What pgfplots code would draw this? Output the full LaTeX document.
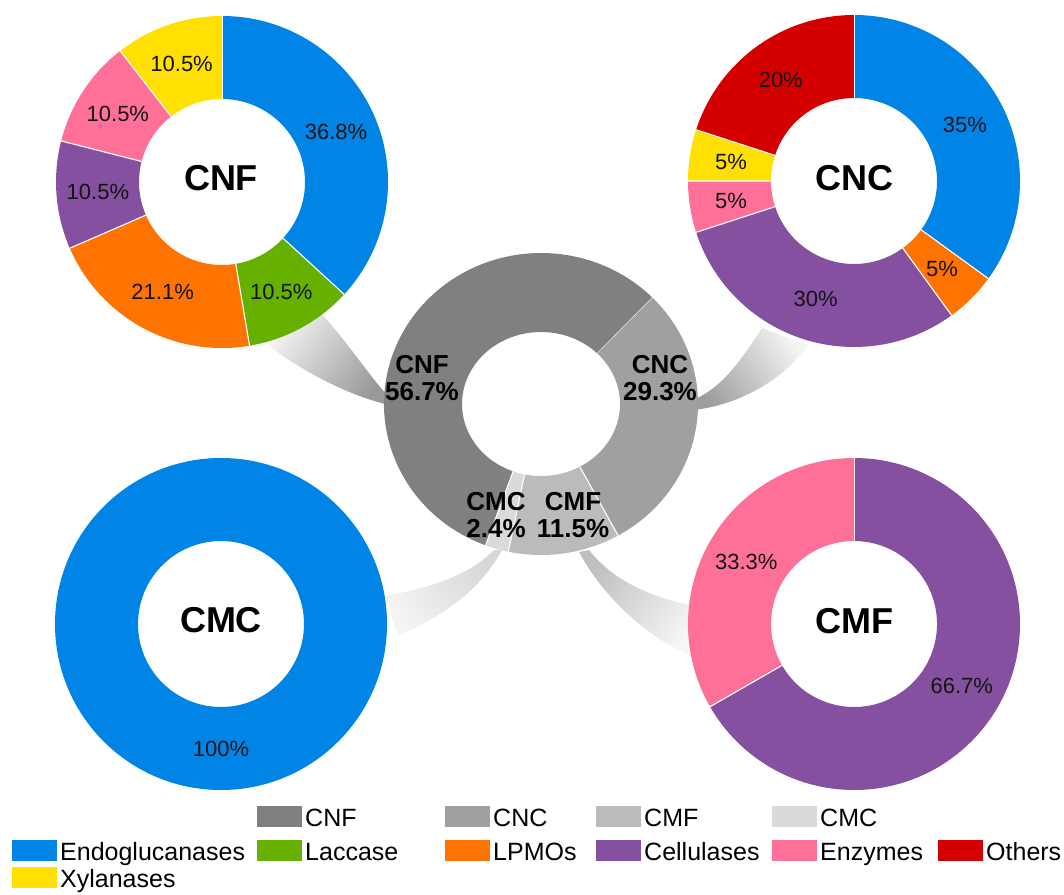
\documentclass[border=0pt]{standalone}
\usepackage{fontspec}
\setmainfont{Liberation Sans}
\usepackage{pgfplots}
\pgfplotsset{compat=1.18}
\usepackage{pgfplotstable}
\usetikzlibrary{calc}

% slice colours
\definecolor{cEndo}{RGB}{0,132,230}
\definecolor{cLacc}{RGB}{102,176,0}
\definecolor{cLPMO}{RGB}{255,115,0}
\definecolor{cCell}{RGB}{134,80,160}
\definecolor{cEnz}{RGB}{255,112,152}
\definecolor{cOth}{RGB}{212,0,0}
\definecolor{cXyl}{RGB}{255,224,0}
\definecolor{cCNF}{RGB}{128,128,128}
\definecolor{cCNC}{RGB}{160,160,160}
\definecolor{cCMF}{RGB}{187,187,187}
\definecolor{cCMC}{RGB}{218,218,218}

% shares of each nanocellulose type
\pgfplotstableread{
value col
29.3 cCNC
11.5 cCMF
2.4  cCMC
56.7 cCNF
}\tabAll

% enzymes used for each type
\pgfplotstableread{
value col
36.8 cEndo
10.5 cLacc
21.1 cLPMO
10.5 cCell
10.5 cEnz
10.5 cXyl
}\tabCNF

\pgfplotstableread{
value col
35 cEndo
5  cLPMO
30 cCell
5  cEnz
5  cXyl
20 cOth
}\tabCNC

\pgfplotstableread{
value col
100 cEndo
}\tabCMC

\pgfplotstableread{
value col
66.7 cCell
33.3 cEnz
}\tabCMF

% #1 table, #2 #3 centre, #4 #5 outer radii, #6 #7 inner radii,
% #8 start angle (slices run clockwise), #9 1 = print slice values
\newcommand\donut[9]{%
  \pgfplotstablegetrowsof{#1}%
  \pgfmathtruncatemacro\lastrow{\pgfplotsretval-1}%
  \gdef\dtot{0}%
  \foreach \i in {0,...,\lastrow}{%
    \pgfplotstablegetelem{\i}{value}\of{#1}%
    \pgfmathsetmacro\tmp{\dtot+\pgfplotsretval}%
    \xdef\dtot{\tmp}%
  }%
  \gdef\dang{#8}%
  \foreach \i in {0,...,\lastrow}{%
    \pgfplotstablegetelem{\i}{value}\of{#1}\let\sliceval\pgfplotsretval
    \pgfplotstablegetelem{\i}{col}\of{#1}\let\slicecol\pgfplotsretval
    \pgfmathsetmacro\aend{\dang-(\sliceval/\dtot)*360}%
    \fill[fill=\slicecol]
      ($(axis cs:#2,#3)+(\dang:#4pt and #5pt)$)
      arc[start angle=\dang, end angle=\aend, x radius=#4pt, y radius=#5pt]
      -- ($(axis cs:#2,#3)+(\aend:#6pt and #7pt)$)
      arc[start angle=\aend, end angle=\dang, x radius=#6pt, y radius=#7pt]
      -- cycle;
    \ifnum\lastrow>0
      \draw[white, line width=1.1pt]
        ($(axis cs:#2,#3)+(\dang:#6pt and #7pt)$) --
        ($(axis cs:#2,#3)+(\dang:#4pt and #5pt)$);
    \fi
    \ifnum#9=1
      \pgfmathsetmacro\amid{(\dang+\aend)/2}%
      \pgfmathsetmacro\rmx{(#4+#6)/2}%
      \pgfmathsetmacro\rmy{(#5+#7)/2}%
      \node[font=\fontsize{22}{24}\selectfont, text=black!92, inner sep=0pt]
        at ($(axis cs:#2,#3)+(\amid:\rmx pt and \rmy pt)$) {\sliceval\%};
    \fi
    \xdef\dang{\aend}%
  }%
}

% legend entry: #1 left x, #2 baseline y, #3 colour, #4 text
\newcommand\legitem[4]{%
  \pgfmathsetmacro\ya{#2-20}\pgfmathsetmacro\yb{#2+1}%
  \pgfmathsetmacro\xa{#1+45}\pgfmathsetmacro\xt{#1+48}%
  \fill[#3] (axis cs:#1,\ya) rectangle (axis cs:\xa,\yb);
  \node[anchor=base west, inner sep=0pt, font=\fontsize{25}{28}\selectfont]
    at (axis cs:\xt,#2) {#4};
}

\begin{document}
\begin{tikzpicture}
\begin{axis}[
  at={(0,0)}, anchor=south west,
  scale only axis, width=1064pt, height=894pt,
  xmin=0, xmax=1064, ymin=0, ymax=894, y dir=reverse,
  hide axis, clip=false]

\pgfplotsextra{%
  \coordinate (bbA) at (axis cs:0,894);
  \coordinate (bbB) at (axis cs:1064,0);
  % connectors between the middle ring and the detail rings
  \shade[top color=black!40, bottom color=black!4, shading angle=-126.7]
    (axis cs:320,312) .. controls (axis cs:350,345) and (axis cs:372,380) ..
    (axis cs:390,398) -- (axis cs:390,405)
    .. controls (axis cs:355,398) and (axis cs:300,372) .. (axis cs:262,340) -- cycle;
  \shade[top color=black!38, bottom color=black!4, shading angle=124.3]
    (axis cs:762,328) .. controls (axis cs:740,362) and (axis cs:720,390) ..
    (axis cs:692,400) -- (axis cs:692,410)
    .. controls (axis cs:730,407) and (axis cs:780,385) .. (axis cs:808,345) -- cycle;
  \shade[top color=black!16, bottom color=black!4, shading angle=-58.8]
    (axis cs:494,550) .. controls (axis cs:470,575) and (axis cs:430,588) ..
    (axis cs:385,596) -- (axis cs:398,636)
    .. controls (axis cs:445,615) and (axis cs:480,590) .. (axis cs:502,550) -- cycle;
  \shade[top color=black!25, bottom color=black!3, shading angle=54.7]
    (axis cs:589,550) .. controls (axis cs:610,577) and (axis cs:645,597) ..
    (axis cs:700,607) -- (axis cs:700,660)
    .. controls (axis cs:650,640) and (axis cs:605,600) .. (axis cs:579,552) -- cycle;

  % rings
  \donut{\tabAll}{541}{404}{157}{151}{79}{72}{45}{0}
  \donut{\tabCNF}{222}{182}{166}{166}{83}{83}{90}{1}
  \donut{\tabCNC}{854}{181}{166}{166}{83}{83}{90}{1}
  \donut{\tabCMC}{221}{624}{166}{166}{83}{83}{90}{1}
  \donut{\tabCMF}{854}{624}{166}{166}{83}{83}{90}{1}

  % ring titles
  \begingroup
  \tikzset{every node/.style={font=\fontsize{36}{40}\bfseries, inner sep=0pt}}
  \node at (axis cs:221,178) {CNF};
  \node at (axis cs:854,178) {CNC};
  \node at (axis cs:221,620) {CMC};
  \node at (axis cs:854,621) {CMF};
  \endgroup
  \begingroup
  \tikzset{every node/.style={font=\fontsize{26}{27}\bfseries, inner sep=0pt, align=center}}
  \node at (axis cs:422,378) {CNF\\56.7\%};
  \node at (axis cs:660,378) {CNC\\29.3\%};
  \node at (axis cs:496,515) {CMC\\2.4\%};
  \node at (axis cs:573,515) {CMF\\11.5\%};
  \endgroup

  % legend
  \legitem{257}{826}{cCNF}{CNF}
  \legitem{445}{826}{cCNC}{CNC}
  \legitem{596}{826}{cCMF}{CMF}
  \legitem{772}{826}{cCMC}{CMC}
  \legitem{12}{860}{cEndo}{Endoglucanases}
  \legitem{257}{860}{cLacc}{Laccase}
  \legitem{445}{860}{cLPMO}{LPMOs}
  \legitem{596}{860}{cCell}{Cellulases}
  \legitem{772}{860}{cEnz}{Enzymes}
  \legitem{938}{860}{cOth}{Others}
  \legitem{12}{887}{cXyl}{Xylanases}
}
\end{axis}
\pgfresetboundingbox
\useasboundingbox (bbA) rectangle (bbB);
\end{tikzpicture}
\end{document}
